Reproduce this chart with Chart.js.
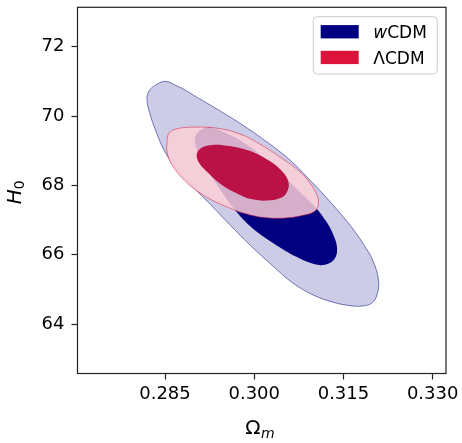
<!DOCTYPE html>
<html>
<head>
<meta charset="utf-8">
<script src="https://cdn.jsdelivr.net/npm/chart.js@4.4.1/dist/chart.umd.min.js"></script>
<style>
  html, body { margin: 0; padding: 0; background: #fff; }
  #plot { display: block; }
</style>
</head>
<body>
<canvas id="plot" width="462" height="443"></canvas>
<script>
"use strict";

// contour outlines: Omega_m and H0 along each boundary
const wOuterOm = [0.28197, 0.28231, 0.28366, 0.28517, 0.28685, 0.28819, 0.28971, 0.29307, 0.29761, 0.30215, 0.30601, 0.30887, 0.31190, 0.31442, 0.31660, 0.31845, 0.31996, 0.32089, 0.32064, 0.31980, 0.31828, 0.31610, 0.31324, 0.30988, 0.30652, 0.30315, 0.29929, 0.29593, 0.29256, 0.28920, 0.28668, 0.28483, 0.28332, 0.28248];
const wOuterH0 = [70.46, 70.72, 70.92, 71.00, 70.88, 70.77, 70.61, 70.27, 69.79, 69.25, 68.73, 68.24, 67.69, 67.20, 66.74, 66.28, 65.82, 65.27, 64.84, 64.61, 64.52, 64.53, 64.63, 64.84, 65.18, 65.67, 66.28, 66.86, 67.46, 68.04, 68.53, 69.02, 69.63, 70.06];

const wInnerOm = [0.29004, 0.29088, 0.29256, 0.29593, 0.29929, 0.30265, 0.30568, 0.30820, 0.31038, 0.31206, 0.31324, 0.31391, 0.31358, 0.31206, 0.31005, 0.30719, 0.30315, 0.29929, 0.29626, 0.29391, 0.29172, 0.29038];
const wInnerH0 = [69.37, 69.58, 69.67, 69.45, 69.11, 68.64, 68.15, 67.72, 67.35, 66.97, 66.60, 66.22, 65.90, 65.72, 65.73, 65.93, 66.34, 66.83, 67.40, 67.98, 68.56, 69.02];

const lOuterOm = [0.28534, 0.28567, 0.28719, 0.29004, 0.29374, 0.29761, 0.30097, 0.30484, 0.30769, 0.30937, 0.31055, 0.31080, 0.31022, 0.30803, 0.30517, 0.30181, 0.29845, 0.29509, 0.29172, 0.28853, 0.28618, 0.28534];
const lOuterH0 = [69.22, 69.51, 69.64, 69.68, 69.65, 69.48, 69.19, 68.76, 68.39, 68.07, 67.72, 67.49, 67.26, 67.13, 67.06, 67.07, 67.19, 67.40, 67.69, 68.10, 68.59, 68.96];

const lInnerOm = [0.29033, 0.29088, 0.29223, 0.29475, 0.29878, 0.30231, 0.30467, 0.30576, 0.30551, 0.30450, 0.30215, 0.29929, 0.29727, 0.29458, 0.29206, 0.29072];
const lInnerH0 = [68.88, 69.05, 69.15, 69.16, 69.02, 68.73, 68.41, 68.10, 67.81, 67.64, 67.56, 67.61, 67.75, 68.01, 68.39, 68.65];

const seriesNames = ['wCDM', 'ΛCDM'];
const xTickValues = [0.285, 0.300, 0.315, 0.330];
const yTickValues = [64, 66, 68, 70, 72];
const xRange = [0.27029, 0.33224];
const yRange = [62.572, 73.137];

const FONT = '"DejaVu Sans", sans-serif';
const NAVY = '#000080';
const CRIMSON = '#dc143c';
const SPINE = '#222222';

const toPoints = (xs, ys) => xs.map((x, i) => ({x: x, y: ys[i]}));

function contour(xs, ys, fillColor, edgeColor, edgeWidth, order) {
	return {
		data: toPoints(xs, ys),
		showLine: true,
		fill: 'shape',
		backgroundColor: fillColor,
		borderColor: edgeColor,
		borderWidth: edgeWidth,
		tension: 0.4,
		pointRadius: 0,
		pointHoverRadius: 0,
		pointHitRadius: 0,
		order: order
	};
}

// the contours are closed curves, so let the spline wrap round
const closeLoops = {
	id: 'closeLoops',
	afterDatasetUpdate(chart, args) {
		const line = args.meta.dataset;
		if (!line) return;
		line._loop = true;
		line._fullLoop = true;
		line._pointsUpdated = false;
		line._segments = undefined;
		line._path = undefined;
	}
};

// matplotlib-like frame, axis labels with sub/italics, legend inside the axes
const decorations = {
	id: 'decorations',
	afterDraw(chart) {
		const ctx = chart.ctx;
		const a = chart.chartArea;

		ctx.save();
		ctx.strokeStyle = SPINE;
		ctx.lineWidth = 1.2;
		ctx.strokeRect(a.left, a.top, a.right - a.left, a.bottom - a.top);

		// x title: Omega_m
		ctx.fillStyle = '#000';
		ctx.textBaseline = 'alphabetic';
		ctx.textAlign = 'left';
		ctx.font = '20px ' + FONT;
		const wOmega = ctx.measureText('Ω').width;
		ctx.font = 'italic 14px ' + FONT;
		const wM = ctx.measureText('m').width;
		const xs = (a.left + a.right) / 2 - (wOmega + wM) / 2 - 2;
		ctx.font = '20px ' + FONT;
		ctx.fillText('Ω', xs, 433.5);
		ctx.font = 'italic 14px ' + FONT;
		ctx.fillText('m', xs + wOmega + 0.5, 437.5);

		// y title: H_0
		ctx.save();
		ctx.translate(20.5, (a.top + a.bottom) / 2 + 2);
		ctx.rotate(-Math.PI / 2);
		ctx.font = 'italic 20px ' + FONT;
		const wH = ctx.measureText('H').width;
		ctx.font = '14px ' + FONT;
		const w0 = ctx.measureText('0').width;
		const ys = -(wH + w0) / 2;
		ctx.font = 'italic 20px ' + FONT;
		ctx.fillText('H', ys, 0);
		ctx.font = '14px ' + FONT;
		ctx.fillText('0', ys + wH, 3.5);
		ctx.restore();

		// legend
		const right = a.right - 8.7, top = a.top + 9.4;
		const bw = 124, bh = 57.3;
		const left = right - bw;
		ctx.beginPath();
		ctx.roundRect(left, top, bw, bh, 4);
		ctx.fillStyle = 'rgba(255,255,255,0.8)';
		ctx.fill();
		ctx.strokeStyle = '#cccccc';
		ctx.lineWidth = 1;
		ctx.stroke();

		const patchColors = [NAVY, CRIMSON];
		seriesNames.forEach((name, i) => {
			const cy = top + 15 + i * 25.7;
			ctx.fillStyle = patchColors[i];
			ctx.fillRect(left + 7.4, cy - 6.6, 38, 13.3);
			ctx.fillStyle = '#000';
			let tx = left + 60;
			const by = cy + 6.2;
			const head = name.charAt(0);
			const rest = name.slice(1);
			ctx.font = (/[a-z]/.test(head) ? 'italic ' : '') + '17px ' + FONT;
			ctx.fillText(head, tx, by);
			tx += ctx.measureText(head).width;
			ctx.font = '17px ' + FONT;
			ctx.fillText(rest, tx, by);
		});
		ctx.restore();
	}
};

const tickGrid = {
	display: true,
	drawOnChartArea: false,
	drawTicks: true,
	tickLength: 6,
	tickWidth: 1.2,
	tickColor: SPINE
};

// pin the plot box: no extra room for overhanging tick labels
function noOverhang(scale) {
	scale.paddingTop = 0;
	scale.paddingBottom = 0;
	scale.paddingLeft = 0;
	scale.paddingRight = 0;
}

new Chart(document.getElementById('plot'), {
	type: 'scatter',
	data: {
		datasets: [
			contour(wOuterOm, wOuterH0, 'rgba(0,0,128,0.2)', 'rgba(0,0,128,0.5)', 1, 4),
			contour(wInnerOm, wInnerH0, NAVY, NAVY, 0, 3),
			contour(lOuterOm, lOuterH0, 'rgba(250,206,215,0.85)', 'rgba(220,20,60,0.5)', 1, 2),
			contour(lInnerOm, lInnerH0, '#ba1246', '#ba1246', 0, 1)
		]
	},
	options: {
		responsive: false,
		animation: false,
		events: [],
		layout: {padding: {left: 0, right: 16, top: 7.3, bottom: 0}},
		plugins: {
			legend: {display: false},
			tooltip: {enabled: false},
			title: {display: false}
		},
		scales: {
			x: {
				type: 'linear',
				min: xRange[0],
				max: xRange[1],
				grid: tickGrid,
				border: {display: false},
				afterBuildTicks: (scale) => { scale.ticks = xTickValues.map(v => ({value: v})); },
				afterFit: (scale) => { scale.height = 69.5; noOverhang(scale); },
				ticks: {
					autoSkip: false,
					maxRotation: 0,
					padding: 4,
					color: '#000',
					font: {family: FONT, size: 18},
					callback: (v) => Number(v).toFixed(3)
				}
			},
			y: {
				type: 'linear',
				min: yRange[0],
				max: yRange[1],
				grid: tickGrid,
				border: {display: false},
				afterBuildTicks: (scale) => { scale.ticks = yTickValues.map(v => ({value: v})); },
				afterFit: (scale) => { scale.width = 77.5; noOverhang(scale); },
				ticks: {
					autoSkip: false,
					padding: 7,
					color: '#000',
					font: {family: FONT, size: 18},
					callback: (v) => String(v)
				}
			}
		}
	},
	plugins: [closeLoops, decorations]
});
</script>
</body>
</html>
